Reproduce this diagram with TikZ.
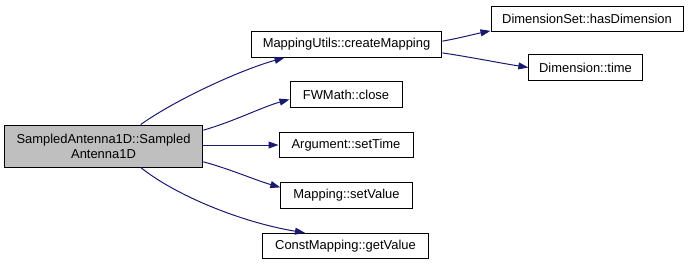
\documentclass[tikz,border=0pt]{standalone}
\usepackage{fontspec}
\setmainfont{Liberation Sans}
\usetikzlibrary{arrows.meta}

\definecolor{edgeblue}{HTML}{191970}
\definecolor{rootgray}{HTML}{BFBFBF}

\tikzset{every picture/.style={line width=0.75pt}}
\tikzset{
  fnbox/.style={draw=black, fill=white, inner sep=0pt, minimum height=19pt,
    font=\fontsize{9.7}{11.2}\selectfont, align=center},
  call/.style={draw=edgeblue, line width=0.75pt,
    -{Triangle[length=7.5pt,width=5.2pt]}},
}

\begin{document}
\begin{tikzpicture}[x=0.75pt,y=0.75pt,yscale=-1,xscale=1]
	\useasboundingbox (0,0) rectangle (691,265);

	% caller
	\node (root) [fnbox, fill=rootgray, minimum width=149pt, minimum height=31.5pt] at (103.5,146)
		{SampledAntenna1D::Sampled\\Antenna1D};

	% called functions
	\node (createMapping) [fnbox, minimum width=143pt] at (346.5,44.5) {MappingUtils::createMapping};
	\node (fwClose) [fnbox, minimum width=84pt] at (346,94.5) {FWMath::close};
	\node (setTime) [fnbox, minimum width=100.5pt] at (346,145) {Argument::setTime};
	\node (setValue) [fnbox, minimum width=98.5pt] at (346.5,195.5) {Mapping::setValue};
	\node (getValue) [fnbox, minimum width=124pt] at (345.5,246) {ConstMapping::getValue};
	\node (hasDimension) [fnbox, minimum width=144pt] at (587,19) {DimensionSet::hasDimension};
	\node (dimTime) [fnbox, minimum width=85pt] at (585.5,67.5) {Dimension::time};

	% calls
	\draw [call] (root.30) .. controls (175,100) and (240,70) .. (createMapping.192);
	\draw [call] (root.9) .. controls (235,121) and (262,107) .. (fwClose.185);
	\draw [call] (root.east |- setTime.west) -- (setTime.west);
	\draw [call] (root.-9) .. controls (230,169) and (255,180) .. (setValue.173);
	\draw [call] (root.-30) .. controls (175,195) and (240,222) .. (getValue.162);
	\draw [call] (createMapping.2) .. controls (460,38) and (475,34) .. (hasDimension.187);
	\draw [call] (createMapping.-5) .. controls (470,57) and (500,63) .. (dimTime.west);

\end{tikzpicture}
\end{document}
